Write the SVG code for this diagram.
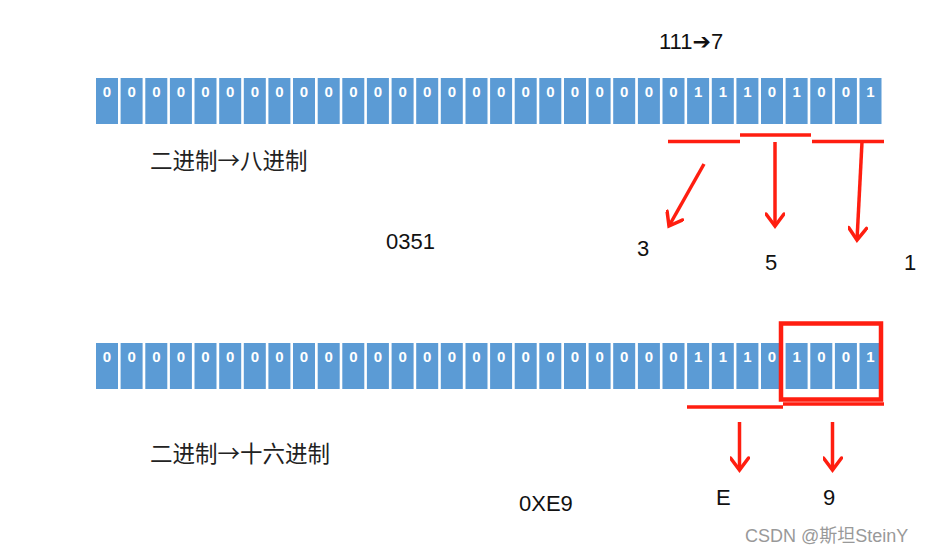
<svg xmlns="http://www.w3.org/2000/svg" width="928" height="553" viewBox="0 0 928 553">
<style>
.cell{fill:#5B9BD5}
.bit{fill:#fff;font-family:"Liberation Sans",Arial,sans-serif;font-size:15px;font-weight:bold;text-anchor:middle}
.lbl{fill:#111;font-family:"Liberation Sans","Noto Sans CJK SC",sans-serif;font-size:22px}
.cjk{fill:#222;font-family:"Noto Sans CJK SC",sans-serif;font-size:22.5px}
.red{stroke:#FF1E10;stroke-width:3.5;fill:none}
.wm{fill:#999;font-family:"Liberation Sans","Noto Sans CJK SC",sans-serif;font-size:18px}
</style>
<defs>
<marker id="ah" viewBox="0 0 20 20" refX="17" refY="10" markerWidth="20" markerHeight="20" orient="auto" markerUnits="userSpaceOnUse">
<path d="M5,1 L17,10 L5,19" fill="none" stroke="#FF1E10" stroke-width="3.5" stroke-linecap="round" stroke-linejoin="miter"/>
</marker>
</defs>
<rect width="928" height="553" fill="#fff"/>
<g id="top-bar">
<g id="top-cells">
<rect class="cell" x="96" y="78" width="22" height="46"/><rect class="cell" x="120.6" y="78" width="22" height="46"/><rect class="cell" x="145.3" y="78" width="22" height="46"/><rect class="cell" x="169.9" y="78" width="22" height="46"/><rect class="cell" x="194.5" y="78" width="22" height="46"/><rect class="cell" x="219.2" y="78" width="22" height="46"/><rect class="cell" x="243.8" y="78" width="22" height="46"/><rect class="cell" x="268.4" y="78" width="22" height="46"/><rect class="cell" x="293" y="78" width="22" height="46"/><rect class="cell" x="317.7" y="78" width="22" height="46"/><rect class="cell" x="342.3" y="78" width="22" height="46"/><rect class="cell" x="366.9" y="78" width="22" height="46"/><rect class="cell" x="391.6" y="78" width="22" height="46"/><rect class="cell" x="416.2" y="78" width="22" height="46"/><rect class="cell" x="440.8" y="78" width="22" height="46"/><rect class="cell" x="465.5" y="78" width="22" height="46"/><rect class="cell" x="490.1" y="78" width="22" height="46"/><rect class="cell" x="514.7" y="78" width="22" height="46"/><rect class="cell" x="539.3" y="78" width="22" height="46"/><rect class="cell" x="564" y="78" width="22" height="46"/><rect class="cell" x="588.6" y="78" width="22" height="46"/><rect class="cell" x="613.2" y="78" width="22" height="46"/><rect class="cell" x="637.9" y="78" width="22" height="46"/><rect class="cell" x="662.5" y="78" width="22" height="46"/><rect class="cell" x="687.1" y="78" width="22" height="46"/><rect class="cell" x="711.8" y="78" width="22" height="46"/><rect class="cell" x="736.4" y="78" width="22" height="46"/><rect class="cell" x="761" y="78" width="22" height="46"/><rect class="cell" x="785.6" y="78" width="22" height="46"/><rect class="cell" x="810.3" y="78" width="22" height="46"/><rect class="cell" x="834.9" y="78" width="22" height="46"/><rect class="cell" x="859.5" y="78" width="22" height="46"/>
</g>
<g id="top-bits">
<text class="bit" x="107" y="97">0</text><text class="bit" x="131.6" y="97">0</text><text class="bit" x="156.3" y="97">0</text><text class="bit" x="180.9" y="97">0</text><text class="bit" x="205.5" y="97">0</text><text class="bit" x="230.2" y="97">0</text><text class="bit" x="254.8" y="97">0</text><text class="bit" x="279.4" y="97">0</text><text class="bit" x="304" y="97">0</text><text class="bit" x="328.7" y="97">0</text><text class="bit" x="353.3" y="97">0</text><text class="bit" x="377.9" y="97">0</text><text class="bit" x="402.6" y="97">0</text><text class="bit" x="427.2" y="97">0</text><text class="bit" x="451.8" y="97">0</text><text class="bit" x="476.5" y="97">0</text><text class="bit" x="501.1" y="97">0</text><text class="bit" x="525.7" y="97">0</text><text class="bit" x="550.3" y="97">0</text><text class="bit" x="575" y="97">0</text><text class="bit" x="599.6" y="97">0</text><text class="bit" x="624.2" y="97">0</text><text class="bit" x="648.9" y="97">0</text><text class="bit" x="673.5" y="97">0</text><text class="bit" x="698.1" y="97">1</text><text class="bit" x="722.8" y="97">1</text><text class="bit" x="747.4" y="97">1</text><text class="bit" x="772" y="97">0</text><text class="bit" x="796.6" y="97">1</text><text class="bit" x="821.3" y="97">0</text><text class="bit" x="845.9" y="97">0</text><text class="bit" x="870.5" y="97">1</text>
</g>
</g>
<g id="bottom-bar">
<g id="bottom-cells">
<rect class="cell" x="96" y="343" width="22" height="46"/><rect class="cell" x="120.6" y="343" width="22" height="46"/><rect class="cell" x="145.3" y="343" width="22" height="46"/><rect class="cell" x="169.9" y="343" width="22" height="46"/><rect class="cell" x="194.5" y="343" width="22" height="46"/><rect class="cell" x="219.2" y="343" width="22" height="46"/><rect class="cell" x="243.8" y="343" width="22" height="46"/><rect class="cell" x="268.4" y="343" width="22" height="46"/><rect class="cell" x="293" y="343" width="22" height="46"/><rect class="cell" x="317.7" y="343" width="22" height="46"/><rect class="cell" x="342.3" y="343" width="22" height="46"/><rect class="cell" x="366.9" y="343" width="22" height="46"/><rect class="cell" x="391.6" y="343" width="22" height="46"/><rect class="cell" x="416.2" y="343" width="22" height="46"/><rect class="cell" x="440.8" y="343" width="22" height="46"/><rect class="cell" x="465.5" y="343" width="22" height="46"/><rect class="cell" x="490.1" y="343" width="22" height="46"/><rect class="cell" x="514.7" y="343" width="22" height="46"/><rect class="cell" x="539.3" y="343" width="22" height="46"/><rect class="cell" x="564" y="343" width="22" height="46"/><rect class="cell" x="588.6" y="343" width="22" height="46"/><rect class="cell" x="613.2" y="343" width="22" height="46"/><rect class="cell" x="637.9" y="343" width="22" height="46"/><rect class="cell" x="662.5" y="343" width="22" height="46"/><rect class="cell" x="687.1" y="343" width="22" height="46"/><rect class="cell" x="711.8" y="343" width="22" height="46"/><rect class="cell" x="736.4" y="343" width="22" height="46"/><rect class="cell" x="761" y="343" width="22" height="46"/><rect class="cell" x="785.6" y="343" width="22" height="46"/><rect class="cell" x="810.3" y="343" width="22" height="46"/><rect class="cell" x="834.9" y="343" width="22" height="46"/><rect class="cell" x="859.5" y="343" width="22" height="46"/>
</g>
<g id="bottom-bits">
<text class="bit" x="107" y="362">0</text><text class="bit" x="131.6" y="362">0</text><text class="bit" x="156.3" y="362">0</text><text class="bit" x="180.9" y="362">0</text><text class="bit" x="205.5" y="362">0</text><text class="bit" x="230.2" y="362">0</text><text class="bit" x="254.8" y="362">0</text><text class="bit" x="279.4" y="362">0</text><text class="bit" x="304" y="362">0</text><text class="bit" x="328.7" y="362">0</text><text class="bit" x="353.3" y="362">0</text><text class="bit" x="377.9" y="362">0</text><text class="bit" x="402.6" y="362">0</text><text class="bit" x="427.2" y="362">0</text><text class="bit" x="451.8" y="362">0</text><text class="bit" x="476.5" y="362">0</text><text class="bit" x="501.1" y="362">0</text><text class="bit" x="525.7" y="362">0</text><text class="bit" x="550.3" y="362">0</text><text class="bit" x="575" y="362">0</text><text class="bit" x="599.6" y="362">0</text><text class="bit" x="624.2" y="362">0</text><text class="bit" x="648.9" y="362">0</text><text class="bit" x="673.5" y="362">0</text><text class="bit" x="698.1" y="362">1</text><text class="bit" x="722.8" y="362">1</text><text class="bit" x="747.4" y="362">1</text><text class="bit" x="772" y="362">0</text><text class="bit" x="796.6" y="362">1</text><text class="bit" x="821.3" y="362">0</text><text class="bit" x="845.9" y="362">0</text><text class="bit" x="870.5" y="362">1</text>
</g>
</g>
<g id="labels">
<text class="lbl" x="659" y="49">111<tspan font-weight="bold" font-family="DejaVu Sans">➔</tspan>7</text>
<text class="cjk" x="150" y="169">二进制→八进制</text>
<text class="lbl" x="386" y="249">0351</text>
<text class="lbl" x="637" y="256">3</text>
<text class="lbl" x="765" y="270">5</text>
<text class="lbl" x="904" y="270">1</text>
<text class="cjk" x="150" y="462">二进制→十六进制</text>
<text class="lbl" x="519" y="511">0XE9</text>
<text class="lbl" x="716" y="505">E</text>
<text class="lbl" x="823" y="505">9</text>
<text class="wm" x="745" y="542">CSDN @斯坦SteinY</text>
</g>
<g id="connectors">
<line class="red" x1="668" y1="141.5" x2="740" y2="141.5"/>
<line class="red" x1="740" y1="135" x2="811" y2="135"/>
<line class="red" x1="812" y1="141.5" x2="884" y2="141.5"/>
<line class="red" x1="704" y1="164" x2="669" y2="226" marker-end="url(#ah)"/>
<line class="red" x1="775" y1="142" x2="775" y2="226" marker-end="url(#ah)"/>
<line class="red" x1="862" y1="142" x2="857" y2="240" marker-end="url(#ah)"/>
<rect x="781" y="323.5" width="100" height="76" fill="none" stroke="#FF1E10" stroke-width="4.5"/>
<line class="red" x1="687" y1="407" x2="783" y2="407"/>
<line class="red" x1="783" y1="404" x2="884" y2="404"/>
<line class="red" x1="739.5" y1="422" x2="739.5" y2="470" marker-end="url(#ah)"/>
<line class="red" x1="832.5" y1="422" x2="832.5" y2="470" marker-end="url(#ah)"/>
</g>
</svg>
